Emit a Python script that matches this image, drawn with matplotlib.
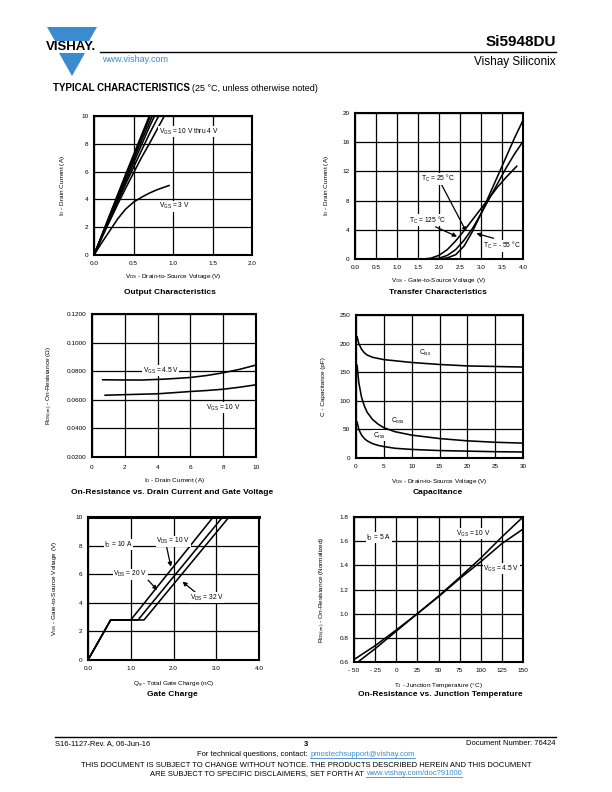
import matplotlib
matplotlib.use("Agg")
import matplotlib.pyplot as plt
from matplotlib.patches import Polygon
import numpy as np

plt.rcParams['font.family'] = ['Liberation Sans', 'DejaVu Sans']
plt.rcParams['mathtext.fontset'] = 'custom'
plt.rcParams['mathtext.rm'] = 'Liberation Sans'
plt.rcParams['mathtext.it'] = 'Liberation Sans:italic'
plt.rcParams['mathtext.bf'] = 'Liberation Sans:bold'

# ---------------- data ----------------
# Output characteristics
out_vds = [0.0, 0.1, 0.2, 0.3, 0.4, 0.5, 0.6, 0.7, 0.8, 0.9]
id_vgs10 = [0, 1.45, 2.9, 4.35, 5.8, 7.2, 8.6, 10.0, 11.4, 12.8]
id_vgs8 = [0, 1.42, 2.84, 4.25, 5.65, 7.05, 8.45, 9.8, 11.2, 12.5]
id_vgs6 = [0, 1.38, 2.76, 4.12, 5.5, 6.85, 8.2, 9.5, 10.8, 12.1]
id_vgs5 = [0, 1.35, 2.7, 4.0, 5.3, 6.6, 7.9, 9.2, 10.4, 11.6]
id_vgs4p5 = [0, 1.3, 2.6, 3.85, 5.1, 6.3, 7.5, 8.7, 9.8, 10.9]
id_vgs4 = [0, 1.25, 2.45, 3.65, 4.8, 5.9, 7.0, 8.0, 9.05, 10.1]
out_vds_3v = [0.0, 0.1, 0.2, 0.3, 0.4, 0.5, 0.6, 0.7, 0.8, 0.95]
id_vgs3 = [0, 0.9, 1.75, 2.6, 3.3, 3.8, 4.15, 4.45, 4.7, 5.0]

# Transfer characteristics
tr_vgs_125 = [0.0, 1.6, 1.8, 2.0, 2.2, 2.4, 2.6, 2.8, 3.0, 3.2, 3.4, 3.6, 3.85]
tr_id_125 = [0, 0, 0.1, 0.5, 1.3, 2.5, 3.9, 5.4, 6.9, 8.4, 9.9, 11.2, 12.7]
tr_vgs_25 = [0.0, 1.8, 2.0, 2.2, 2.4, 2.6, 2.8, 3.0, 3.2, 3.4, 3.6, 3.8, 4.0]
tr_id_25 = [0, 0, 0.1, 0.5, 1.3, 2.6, 4.2, 6.2, 8.3, 10.4, 12.5, 14.4, 16.1]
tr_vgs_m55 = [0.0, 2.0, 2.2, 2.4, 2.6, 2.8, 3.0, 3.2, 3.4, 3.6, 3.8, 4.0]
tr_id_m55 = [0, 0, 0.15, 0.6, 1.8, 3.8, 6.2, 8.8, 11.4, 14.0, 16.6, 19.0]

# On-resistance vs drain current
ron_id_45 = [0.65, 1.5, 3.0, 4.5, 6.0, 7.0, 8.0, 9.0, 10.0]
ron_45 = [0.0740, 0.0739, 0.0738, 0.0745, 0.0756, 0.0770, 0.0789, 0.0813, 0.0843]
ron_id_10 = [0.8, 2.0, 4.0, 6.0, 7.0, 8.0, 9.0, 10.0]
ron_10 = [0.0632, 0.0636, 0.0642, 0.0658, 0.0665, 0.0674, 0.0688, 0.0705]

# Capacitance
cap_vds = [0.2, 0.5, 1.0, 1.5, 2.0, 3.0, 4.0, 5.0, 7.0, 10.0, 15.0, 20.0, 25.0, 30.0]
c_iss = [212, 200, 190, 184, 180, 176, 174, 172, 170, 167, 163.5, 161, 160, 159]
c_oss = [162, 132, 106, 91, 80, 67, 59, 53, 46, 40, 34, 30, 27.5, 26]
c_rss = [63, 50, 40, 34, 30, 25, 22, 20, 17, 15, 13, 12, 11, 10.5]

# Gate charge
gc_vgs = [0, 2.8, 2.8, 10]
gc_qg_10 = [0, 0.53, 1.0, 2.93]
gc_qg_20 = [0, 0.53, 1.17, 3.15]
gc_qg_32 = [0, 0.53, 1.31, 3.30]

# On-resistance vs junction temperature
tj = [-50, -25, 0, 25, 50, 75, 100, 125, 150]
rn_vgs10 = [0.575, 0.71, 0.855, 1.0, 1.145, 1.30, 1.46, 1.635, 1.80]
rn_vgs45 = [0.62, 0.735, 0.865, 1.0, 1.14, 1.29, 1.43, 1.58, 1.70]

# ---------------- figure ----------------
W, H = 612, 792
fig = plt.figure(figsize=(W / 100, H / 100), dpi=100)
fig.patch.set_facecolor('white')

bg = fig.add_axes([0, 0, 1, 1])
bg.set_xlim(0, W)
bg.set_ylim(H, 0)
bg.axis('off')

BLUE = '#3b8bd0'
TICK_FS = 4.6
LAB_FS = 4.6
ANN_FS = 4.8
TITLE_FS = 6.0


def make_ax(l, t, r, b):
    ax = fig.add_axes([l / W, 1 - b / H, (r - l) / W, (b - t) / H])
    for s in ax.spines.values():
        s.set_linewidth(1.5)
    ax.tick_params(length=0, labelsize=TICK_FS, pad=4)
    ax.grid(True, color='black', linewidth=0.9)
    ax.set_axisbelow(True)
    return ax


def sub(main, s):
    return main + r'$_\mathregular{' + s + '}$'


LW = 1.15
WB = dict(facecolor='white', edgecolor='none', pad=0.3)

# 1. Output characteristics
ax1 = make_ax(94, 116, 252, 255)
for curve in [id_vgs10, id_vgs8, id_vgs6, id_vgs5, id_vgs4p5, id_vgs4]:
    ax1.plot(out_vds, curve, color='black', lw=LW)
ax1.plot(out_vds_3v, id_vgs3, color='black', lw=LW)
ax1.set_xlim(0, 2.0)
ax1.set_ylim(0, 10)
ax1.set_xticks([0, 0.5, 1.0, 1.5, 2.0])
ax1.set_xticklabels(['0.0', '0.5', '1.0', '1.5', '2.0'])
ax1.set_yticks([0, 2, 4, 6, 8, 10])
ax1.set_xlabel(sub('V', 'DS') + ' - Drain-to-Source Voltage (V)', fontsize=LAB_FS)
ax1.set_ylabel(sub('I', 'D') + ' - Drain Current (A)', fontsize=LAB_FS)
ax1.xaxis.set_label_coords(0.5, -0.125)
ax1.yaxis.set_label_coords(-0.173, 0.5)
ax1.text(0.82, 8.85, sub('V', 'GS') + ' = 10 V thru 4 V', fontsize=ANN_FS, va='center', bbox=WB)
ax1.text(0.82, 3.52, sub('V', 'GS') + ' = 3 V', fontsize=ANN_FS, va='center', bbox=WB)

# 2. Transfer characteristics
ax2 = make_ax(355, 113, 523, 259)
ax2.plot(tr_vgs_125, tr_id_125, color='black', lw=LW)
ax2.plot(tr_vgs_25, tr_id_25, color='black', lw=LW)
ax2.plot(tr_vgs_m55, tr_id_m55, color='black', lw=LW)
ax2.set_xlim(0, 4.0)
ax2.set_ylim(0, 20)
ax2.set_xticks(np.arange(0, 4.01, 0.5))
ax2.set_xticklabels(['%.1f' % v for v in np.arange(0, 4.01, 0.5)])
ax2.set_yticks([0, 4, 8, 12, 16, 20])
ax2.set_xlabel(sub('V', 'GS') + ' - Gate-to-Source Voltage (V)', fontsize=LAB_FS)
ax2.set_ylabel(sub('I', 'D') + ' - Drain Current (A)', fontsize=LAB_FS)
ax2.xaxis.set_label_coords(0.5, -0.115)
ax2.yaxis.set_label_coords(-0.143, 0.5)
arr = dict(arrowstyle='-|>', color='black', lw=0.9, mutation_scale=6, shrinkA=0, shrinkB=0)
ax2.annotate('', xy=(2.65, 3.75), xytext=(2.06, 10.2), arrowprops=arr)
ax2.text(1.58, 11.0, sub('T', 'C') + ' = 25 °C', fontsize=ANN_FS, va='center', bbox=WB)
ax2.annotate('', xy=(2.43, 3.07), xytext=(1.92, 4.4), arrowprops=arr)
ax2.text(1.29, 5.35, sub('T', 'C') + ' = 125 °C', fontsize=ANN_FS, va='center', bbox=WB)
ax2.annotate('', xy=(2.89, 3.5), xytext=(3.30, 2.84), arrowprops=arr)
ax2.text(3.05, 1.8, sub('T', 'C') + ' = - 55 °C', fontsize=ANN_FS, va='center', bbox=WB)

# 3. On-resistance vs drain current
ax3 = make_ax(92, 314, 256, 457)
ax3.plot(ron_id_45, ron_45, color='black', lw=LW)
ax3.plot(ron_id_10, ron_10, color='black', lw=LW)
ax3.set_xlim(0, 10)
ax3.set_ylim(0.02, 0.12)
ax3.set_xticks([0, 2, 4, 6, 8, 10])
ax3.set_yticks([0.02, 0.04, 0.06, 0.08, 0.10, 0.12])
ax3.set_yticklabels(['%.4f' % v for v in [0.02, 0.04, 0.06, 0.08, 0.10, 0.12]])
ax3.tick_params(axis='x', pad=6)
ax3.set_xlabel(sub('I', 'D') + ' - Drain Current (A)', fontsize=LAB_FS)
ax3.set_ylabel(sub('R', 'DS(on)') + ' - On-Resistance (Ω)', fontsize=LAB_FS)
ax3.xaxis.set_label_coords(0.5, -0.135)
ax3.yaxis.set_label_coords(-0.226, 0.5)
ax3.text(3.08, 0.0803, sub('V', 'GS') + ' = 4.5 V', fontsize=ANN_FS, va='center', bbox=WB)
ax3.text(6.96, 0.0546, sub('V', 'GS') + ' = 10 V', fontsize=ANN_FS, va='center', bbox=WB)

# 4. Capacitance
ax4 = make_ax(356, 315, 523, 458)
ax4.plot(cap_vds, c_iss, color='black', lw=LW)
ax4.plot(cap_vds, c_oss, color='black', lw=LW)
ax4.plot(cap_vds, c_rss, color='black', lw=LW)
ax4.set_xlim(0, 30)
ax4.set_ylim(0, 250)
ax4.set_xticks([0, 5, 10, 15, 20, 25, 30])
ax4.set_yticks([0, 50, 100, 150, 200, 250])
ax4.set_xlabel(sub('V', 'DS') + ' - Drain-to-Source Voltage (V)', fontsize=LAB_FS)
ax4.set_ylabel('C - Capacitance (pF)', fontsize=LAB_FS)
ax4.xaxis.set_label_coords(0.5, -0.13)
ax4.yaxis.set_label_coords(-0.18, 0.5)
ax4.text(11.4, 184, sub('C', 'iss'), fontsize=ANN_FS, va='center', bbox=WB)
ax4.text(6.2, 65, sub('C', 'oss'), fontsize=ANN_FS, va='center', bbox=WB)
ax4.text(3.0, 38.6, sub('C', 'rss'), fontsize=ANN_FS, va='center', bbox=WB)

# 5. Gate charge
ax5 = make_ax(88, 517, 259, 660)
ax5.plot(gc_qg_10, gc_vgs, color='black', lw=LW)
ax5.plot(gc_qg_20, gc_vgs, color='black', lw=LW)
ax5.plot(gc_qg_32, gc_vgs, color='black', lw=LW)
ax5.set_xlim(0, 4.0)
ax5.set_ylim(0, 10)
ax5.set_xticks([0, 1, 2, 3, 4])
ax5.set_xticklabels(['0.0', '1.0', '2.0', '3.0', '4.0'])
ax5.set_yticks([0, 2, 4, 6, 8, 10])
ax5.spines['top'].set_linewidth(2.2)
ax5.set_xlabel(sub('Q', 'g') + ' - Total Gate Charge (nC)', fontsize=LAB_FS)
ax5.set_ylabel(sub('V', 'GS') + ' - Gate-to-Source Voltage (V)', fontsize=LAB_FS)
ax5.xaxis.set_label_coords(0.5, -0.135)
ax5.yaxis.set_label_coords(-0.17, 0.5)
ax5.text(0.375, 8.07, sub('I', 'D') + ' = 10 A', fontsize=ANN_FS, va='center', bbox=WB)
ax5.annotate('', xy=(1.94, 6.52), xytext=(1.84, 7.9), arrowprops=arr)
ax5.text(1.59, 8.3, sub('V', 'DS') + ' = 10 V', fontsize=ANN_FS, va='center', bbox=WB)
ax5.annotate('', xy=(1.62, 4.9), xytext=(1.31, 5.89), arrowprops=arr)
ax5.text(0.59, 6.0, sub('V', 'DS') + ' = 20 V', fontsize=ANN_FS, va='center', bbox=WB)
ax5.annotate('', xy=(2.21, 5.48), xytext=(2.54, 4.66), arrowprops=arr)
ax5.text(2.38, 4.36, sub('V', 'DS') + ' = 32 V', fontsize=ANN_FS, va='center', bbox=WB)

# 6. On-resistance vs junction temperature
ax6 = make_ax(354, 517, 523, 662)
ax6.plot(tj, rn_vgs10, color='black', lw=LW)
ax6.plot(tj, rn_vgs45, color='black', lw=LW)
ax6.set_xlim(-50, 150)
ax6.set_ylim(0.6, 1.8)
ax6.set_xticks([-50, -25, 0, 25, 50, 75, 100, 125, 150])
ax6.set_xticklabels(['- 50', '- 25', '0', '25', '50', '75', '100', '125', '150'])
ax6.set_yticks([0.6, 0.8, 1.0, 1.2, 1.4, 1.6, 1.8])
ax6.set_yticklabels(['0.6', '0.8', '1.0', '1.2', '1.4', '1.6', '1.8'])
ax6.set_xlabel(sub('T', 'J') + ' - Junction Temperature (°C)', fontsize=LAB_FS)
ax6.set_ylabel(sub('R', 'DS(on)') + ' - On-Resistance (Normalized)', fontsize=LAB_FS)
ax6.xaxis.set_label_coords(0.5, -0.13)
ax6.yaxis.set_label_coords(-0.154, 0.5)
ax6.text(-35.4, 1.63, sub('I', 'D') + ' = 5 A', fontsize=ANN_FS, va='center', bbox=WB)
ax6.text(71, 1.66, sub('V', 'GS') + ' = 10 V', fontsize=ANN_FS, va='center', bbox=WB)
ax6.text(102.7, 1.37, sub('V', 'GS') + ' = 4.5 V', fontsize=ANN_FS, va='center', bbox=WB)

# chart titles
for x, y, t in [(170, 292, 'Output Characteristics'),
                (438, 292, 'Transfer Characteristics'),
                (172, 493, 'On-Resistance vs. Drain Current and Gate Voltage'),
                (438, 493, 'Capacitance'),
                (172, 695, 'Gate Charge'),
                (440, 695, 'On-Resistance vs. Junction Temperature')]:
    bg.text(x, y, t, fontsize=TITLE_FS, fontweight='bold', ha='center', va='center')

# ---------------- header ----------------
bg.add_patch(Polygon([(47, 27), (97, 27), (89, 41), (55, 41)], closed=True,
                     facecolor=BLUE, edgecolor='none'))
bg.add_patch(Polygon([(59, 53), (85, 53), (72, 76)], closed=True,
                     facecolor=BLUE, edgecolor='none'))
bg.text(71.5, 47.5, 'VISHAY.', fontsize=9.5, fontweight='bold', ha='center', va='center')
bg.plot([100, 556], [52, 52], color='black', lw=1.0)
bg.text(556, 46, 'Si5948DU', fontsize=11, fontweight='bold', ha='right', va='baseline')
bg.text(556, 65, 'Vishay Siliconix', fontsize=8.5, ha='right', va='baseline')
bg.text(102, 62, 'www.vishay.com', fontsize=6.5, color=BLUE, ha='left', va='baseline')
t1 = bg.text(53, 91, 'TYPICAL CHARACTERISTICS', fontsize=7, fontweight='bold',
             ha='left', va='baseline')
fig.canvas.draw()
r = fig.canvas.get_renderer()
bb = t1.get_window_extent(r)
x_end = 53 + bb.width * 100 / fig.dpi
bg.text(x_end + 2, 91, '(25 °C, unless otherwise noted)', fontsize=6.5, ha='left', va='baseline')

# ---------------- footer ----------------
bg.plot([55, 556], [737, 737], color='black', lw=1.0)
bg.text(55, 745, 'S16-1127-Rev. A, 06-Jun-16', fontsize=5.5, ha='left', va='baseline')
bg.text(306, 746, '3', fontsize=5.5, fontweight='bold', ha='center', va='baseline')
bg.text(556, 745, 'Document Number: 76424', fontsize=5.5, ha='right', va='baseline')

fs_f = 5.5
pa = bg.text(0, 0, 'For technical questions, contact: ', fontsize=fs_f, va='baseline')
pb = bg.text(0, 0, 'pmostechsupport@vishay.com', fontsize=fs_f, va='baseline', color=BLUE)
fig.canvas.draw()
wa = pa.get_window_extent(r).width
wb = pb.get_window_extent(r).width
x0 = 306 - (wa + wb) / 2
pa.set_position((x0, 756))
pb.set_position((x0 + wa, 756))
bg.plot([x0 + wa, x0 + wa + wb], [757.5, 757.5], color=BLUE, lw=0.6)

bg.text(306, 767, 'THIS DOCUMENT IS SUBJECT TO CHANGE WITHOUT NOTICE. THE PRODUCTS DESCRIBED HEREIN AND THIS DOCUMENT',
        fontsize=fs_f, ha='center', va='baseline')
pc = bg.text(0, 0, 'ARE SUBJECT TO SPECIFIC DISCLAIMERS, SET FORTH AT ', fontsize=fs_f, va='baseline')
pd = bg.text(0, 0, 'www.vishay.com/doc?91000', fontsize=fs_f, va='baseline', color=BLUE)
fig.canvas.draw()
wc = pc.get_window_extent(r).width
wd = pd.get_window_extent(r).width
x1 = 306 - (wc + wd) / 2
pc.set_position((x1, 775))
pd.set_position((x1 + wc, 775))
bg.plot([x1 + wc, x1 + wc + wd], [776.5, 776.5], color=BLUE, lw=0.6)

fig.savefig('out.png', dpi=100, facecolor='white')
